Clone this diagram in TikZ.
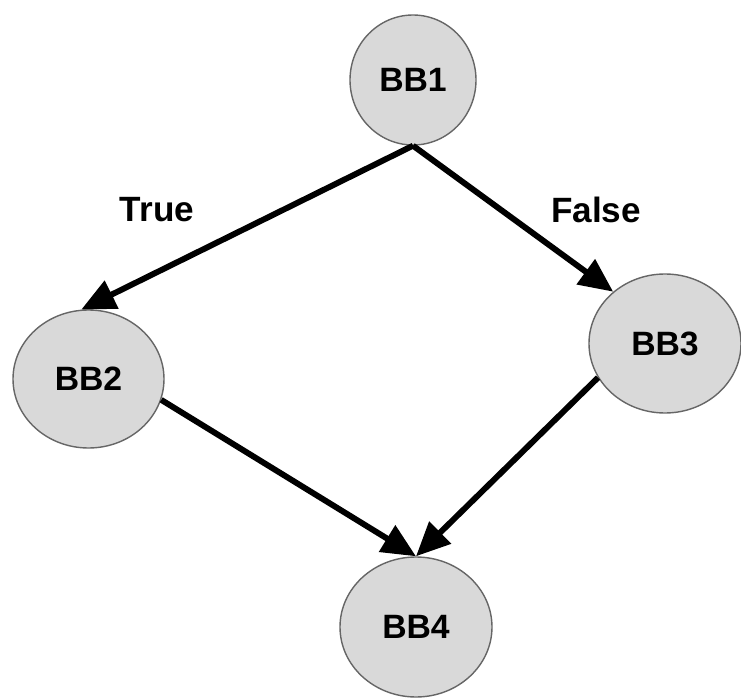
\documentclass[tikz,border=0pt]{standalone}
\usepackage{fontspec}
\setmainfont{Liberation Sans}
\usetikzlibrary{shapes.geometric, arrows.meta}

\begin{document}
\begin{tikzpicture}[
    bb_node/.style={ellipse, draw=black!60, line width=1pt, fill=black!15,
                    inner sep=0pt, font=\fontsize{24}{28}\selectfont\bfseries},
    flow_arrow/.style={line width=4.2pt, black,
                       -{Triangle[length=0.85cm, width=0.75cm]}},
    branch_label/.style={font=\fontsize{25}{30}\selectfont\bfseries}
]

% Canvas
\useasboundingbox (0, 0) rectangle (18.525, 17.45);

% Basic blocks
\node[bb_node, minimum width=3.15cm, minimum height=3.25cm] (bb1) at (10.325, 15.45) {BB1};
\node[bb_node, minimum width=3.775cm, minimum height=3.45cm] (bb2) at (2.2125, 7.975) {BB2};
\node[bb_node, minimum width=3.8cm, minimum height=3.475cm] (bb3) at (16.625, 8.8625) {BB3};
\node[bb_node, minimum width=3.8cm, minimum height=3.5cm] (bb4) at (10.4, 1.775) {BB4};

% Branch labels
\node[branch_label] (lbl_true) at (3.925, 12.2) {True};
\node[branch_label] (lbl_false) at (14.9, 12.2) {False};

% Control flow edges
\draw[flow_arrow] (bb1.south) -- (bb2.96);
\draw[flow_arrow] (bb1.south) -- (bb3.135);
\draw[flow_arrow] (bb2.344) -- (bb4.north);
\draw[flow_arrow] (bb3.207) -- (bb4.north);

\end{tikzpicture}
\end{document}
